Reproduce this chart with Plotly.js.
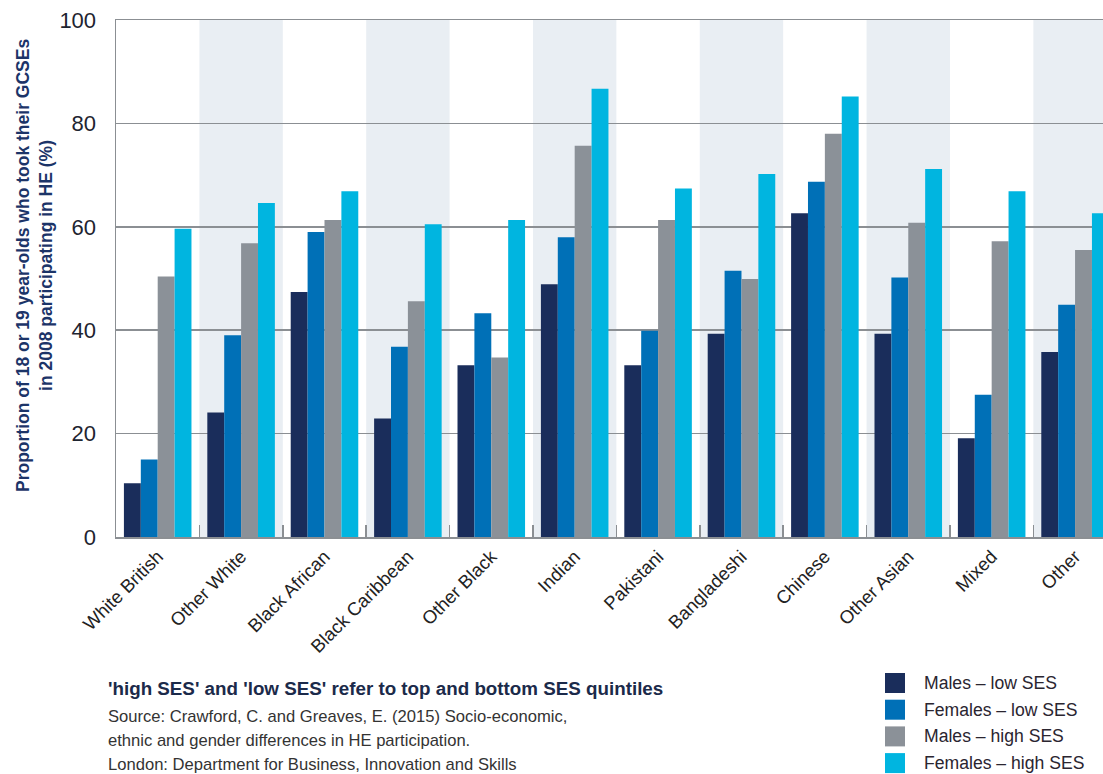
<!DOCTYPE html>
<html>
<head>
<meta charset="utf-8">
<script src="https://cdn.plot.ly/plotly-3.0.1.min.js"></script>
<style>
html,body{margin:0;padding:0;background:#fff;overflow:hidden;}
#chart{width:1103px;height:774px;}
</style>
</head>
<body>
<div id="chart"></div>
<script>
const categories = ["White British","Other White","Black African","Black Caribbean","Other Black","Indian","Pakistani","Bangladeshi","Chinese","Other Asian","Mixed","Other"];
const seriesNames = ["Males \u2013 low SES","Females \u2013 low SES","Males \u2013 high SES","Females \u2013 high SES"];
const malesLow    = [10.4, 24.1, 47.4, 22.9, 33.2, 48.9, 33.2, 39.3, 62.6, 39.3, 19.1, 35.8];
const femalesLow  = [15.0, 39.0, 59.0, 36.8, 43.3, 58.0, 39.9, 51.5, 68.7, 50.2, 27.5, 44.9];
const malesHigh   = [50.4, 56.8, 61.3, 45.6, 34.7, 75.7, 61.3, 49.9, 78.0, 60.8, 57.2, 55.5];
const femalesHigh = [59.6, 64.6, 66.9, 60.5, 61.3, 86.7, 67.4, 70.2, 85.2, 71.2, 66.9, 62.6];
const yTicks = [0, 20, 40, 60, 80, 100];
const yTitle = "Proportion of 18 or 19 year-olds who took their GCSEs<br>in 2008 participating in HE (%)";
const noteTitle = "'high SES' and 'low SES' refer to top and bottom SES quintiles";
const sourceLines = [
  "Source: Crawford, C. and Greaves, E. (2015) Socio-economic,",
  "ethnic and gender differences in HE participation.",
  "London: Department for Business, Innovation and Skills"
];

const colors = ["#1a2d5b", "#0070b7", "#8b9198", "#00b5e0"];
const values = [malesLow, femalesLow, malesHigh, femalesHigh];
const FONT = "'Liberation Sans', Arial, sans-serif";

// layout geometry (pixels)
const W = 1103, H = 774;
const M = {l: 116, r: 0, t: 20, b: 237};
const plotW = W - M.l - M.r, plotH = H - M.t - M.b;
const px2x = p => (p - M.l) / plotW;
const py2y = p => (H - M.b - p) / plotH;

const traces = values.map((v, i) => ({
  type: 'bar',
  name: seriesNames[i],
  x: categories,
  y: v,
  marker: {color: colors[i], line: {width: 0}},
  showlegend: false,
  hoverinfo: 'x+y+name'
}));

const shapes = [];
categories.forEach((c, i) => {
  if (i % 2 === 1) {
    shapes.push({type: 'rect', xref: 'x', yref: 'paper', x0: i - 0.5, x1: i + 0.5, y0: 0, y1: 1,
      fillcolor: '#e9eef3', line: {width: 0}, layer: 'below'});
  }
});

const annotations = [];
annotations.push({
  xref: 'paper', yref: 'paper', x: px2x(34), y: py2y(266), xanchor: 'center', yanchor: 'middle',
  text: '<b>' + yTitle + '</b>', textangle: -90, showarrow: false,
  font: {family: FONT, size: 17.5, color: '#1c3468'}, align: 'center'
});
annotations.push({
  xref: 'paper', yref: 'paper', x: px2x(106), y: py2y(688), xanchor: 'left', yanchor: 'middle',
  text: '<b>' + noteTitle + '</b>', showarrow: false,
  font: {family: FONT, size: 18.8, color: '#1b2a4a'}
});
sourceLines.forEach((t, k) => {
  annotations.push({
    xref: 'paper', yref: 'paper', x: px2x(106), y: py2y(716 + k * 24), xanchor: 'left', yanchor: 'middle',
    text: t, showarrow: false,
    font: {family: FONT, size: 16.6, color: '#333333'}
  });
});
// custom legend
seriesNames.forEach((n, k) => {
  const cy = 683 + k * 26.7;
  shapes.push({type: 'rect', xref: 'paper', yref: 'paper',
    x0: px2x(885), x1: px2x(905), y0: py2y(cy - 10), y1: py2y(cy + 10),
    fillcolor: colors[k], line: {width: 0}});
  annotations.push({
    xref: 'paper', yref: 'paper', x: px2x(922), y: py2y(cy), xanchor: 'left', yanchor: 'middle',
    text: n, showarrow: false,
    font: {family: FONT, size: 17.6, color: '#2a2530'}
  });
});

const layout = {
  width: W, height: H,
  margin: M,
  paper_bgcolor: '#ffffff',
  plot_bgcolor: 'rgba(0,0,0,0)',
  barmode: 'group',
  bargap: 0.19,
  bargroupgap: 0,
  showlegend: false,
  font: {family: FONT, color: '#222222'},
  xaxis: {
    type: 'category',
    range: [-0.5, 11.335],
    tickangle: -45,
    tickson: 'boundaries',
    ticks: 'inside',
    ticklen: 12,
    tickwidth: 1.5,
    tickcolor: '#8b8f93',
    showgrid: false,
    showline: true,
    mirror: true,
    linecolor: '#8b8f93',
    linewidth: 1.5,
    tickfont: {family: FONT, size: 18.5, color: '#222222'},
    fixedrange: true
  },
  yaxis: {
    range: [0, 100],
    tickvals: yTicks,
    ticktext: yTicks.map(String),
    showgrid: true,
    gridcolor: '#8b8f93',
    gridwidth: 1.5,
    zeroline: false,
    showline: true,
    linecolor: '#8b8f93',
    linewidth: 1.5,
    ticks: '',
    ticklabelstandoff: 14,
    tickfont: {family: FONT, size: 22, color: '#1e2430'},
    fixedrange: true
  },
  shapes: shapes,
  annotations: annotations
};

Plotly.newPlot('chart', traces, layout, {displayModeBar: false, staticPlot: true});
</script>
</body>
</html>
